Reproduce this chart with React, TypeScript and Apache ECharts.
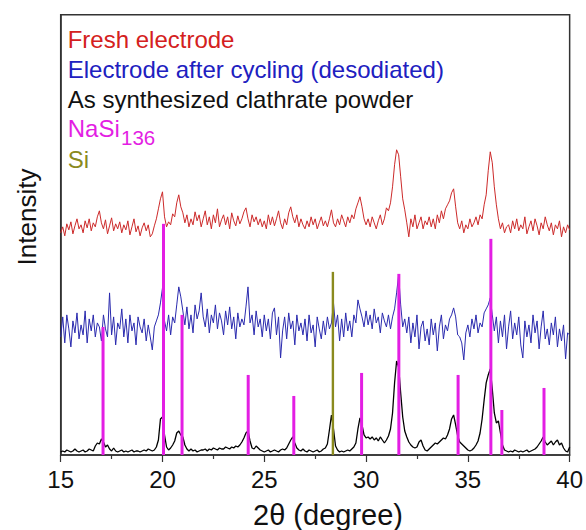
import React, { useEffect, useRef } from "react";
import * as echarts from "echarts";

// Evenly sampled 2θ scan: 15.0 → 40.0 in 0.1° steps
const SCAN_START = 15;
const SCAN_STEP = 0.1;

// Fresh electrode (red), offset intensity
const freshElectrode = [
  222, 228, 219, 231, 225, 233, 221, 229, 236, 226,
  230, 222, 234, 227, 236, 224, 232, 228, 238, 244,
  232, 226, 235, 221, 229, 237, 224, 231, 226, 233,
  222, 230, 225, 234, 220, 228, 236, 223, 229, 219,
  227, 232, 224, 230, 218, 221, 229, 236, 246, 256,
  263, 238, 228, 233, 230, 241, 238, 252, 260, 248,
  242, 232, 240, 228, 236, 230, 243, 234, 240, 228,
  236, 244, 230, 238, 226, 240, 232, 246, 228, 235,
  240, 230, 238, 226, 242, 234, 229, 239, 231, 236,
  243, 247, 236, 228, 240, 233, 238, 230, 236, 228,
  234, 226, 240, 230, 238, 229, 236, 244, 232, 226,
  236, 230, 242, 248, 238, 232, 240, 228, 236, 230,
  226, 234, 228, 238, 230, 236, 226, 232, 238, 229,
  234, 228, 236, 245, 232, 228, 236, 230, 240, 234,
  228, 238, 232, 240, 236, 246, 252, 258, 248, 236,
  230, 236, 228, 238, 232, 226, 234, 240, 230, 236,
  247, 244, 252, 268, 290, 305, 300, 278, 256, 245,
  232, 218, 236, 228, 240, 226, 232, 238, 226, 234,
  230, 238, 228, 236, 226, 240, 232, 244, 236, 246,
  250, 254, 262, 266, 248, 232, 226, 234, 222, 230,
  226, 236, 228, 232, 238, 230, 240, 236, 250, 260,
  284, 303, 292, 268, 250, 236, 226, 232, 222, 228,
  230, 222, 234, 226, 236, 224, 230, 226, 238, 221,
  228, 234, 224, 236, 229, 220, 232, 226, 238, 230,
  224, 232, 220, 230, 226, 234, 218, 228, 222, 230,
  225,
];

// Electrode after cycling (desodiated), blue
const cycledElectrode = [
  118, 138, 112, 140, 126, 108, 134, 122, 142, 116,
  130, 120, 144, 112, 136, 124, 140, 118, 132, 128,
  114, 140, 126, 118, 162, 120, 138, 110, 132, 126,
  146, 118, 136, 112, 140, 124, 132, 110, 138, 128,
  122, 136, 114, 130, 118, 105, 128, 134, 140, 152,
  167, 134, 124, 140, 120, 138, 132, 150, 168, 158,
  144, 130, 148, 126, 140, 122, 150, 136, 144, 162,
  138, 128, 146, 122, 140, 132, 150, 126, 142, 134,
  120, 144, 130, 148, 126, 138, 116, 142, 128, 136,
  130, 148, 168, 132, 140, 120, 144, 128, 136, 118,
  140, 124, 136, 116, 142, 147, 120, 138, 97, 124,
  138, 116, 142, 126, 134, 110, 140, 124, 132, 120,
  136, 114, 140, 122, 130, 108, 138, 126, 116, 134,
  120, 138, 126, 132, 152, 128, 140, 114, 136, 118,
  142, 124, 134, 118, 140, 132, 155, 146, 138, 128,
  144, 130, 140, 126, 146, 132, 138, 122, 142, 134,
  128, 140, 126, 138, 146, 162, 180, 150, 128, 136,
  122, 138, 112, 132, 118, 140, 106, 128, 134, 114,
  126, 110, 136, 120, 132, 104, 128, 140, 116, 130,
  124, 136, 140, 147, 138, 120, 118, 112, 95, 122,
  130, 118, 136, 126, 140, 122, 132, 128, 142, 146,
  150, 157, 140, 124, 138, 112, 134, 118, 140, 106,
  128, 144, 116, 132, 120, 138, 110, 97, 134, 118,
  130, 112, 140, 122, 134, 106, 128, 144, 116, 126,
  110, 132, 120, 138, 108, 126, 114, 130, 96, 122,
  120,
];

// As synthesized clathrate powder, black
const clathratePowder = [
  3, 4, 3, 5, 4, 3, 4, 6, 4, 3,
  4, 5, 3, 4, 6, 5, 4, 9, 12, 11,
  16, 13, 8, 10, 6, 4, 7, 4, 3, 4,
  5, 3, 4, 3, 4, 5, 3, 4, 4, 3,
  4, 5, 4, 6, 5, 4, 5, 8, 15, 36,
  38, 20, 8, 5, 7, 10, 14, 22, 24, 20,
  18, 10, 6, 4, 6, 4, 5, 3, 4, 5,
  5, 6, 4, 6, 5, 7, 6, 5, 7, 6,
  6, 8, 7, 6, 8, 7, 9, 8, 10, 13,
  17, 22, 24, 14, 7, 6, 9, 7, 5, 4,
  3, 4, 5, 3, 4, 5, 4, 3, 5, 6,
  5, 7, 11, 15, 18, 12, 7, 5, 4, 6,
  4, 3, 5, 4, 3, 4, 5, 3, 4, 6,
  7, 11, 25, 40, 26, 9, 5, 3, 4, 3,
  4, 5, 4, 6, 8, 12, 26, 37, 30, 20,
  17, 18, 16, 18, 15, 17, 14, 18, 15, 12,
  15, 19, 26, 42, 72, 94, 88, 62, 38, 24,
  18, 13, 10, 8, 7, 8, 13, 15, 9, 5,
  4, 6, 8, 10, 12, 11, 13, 15, 17, 16,
  20, 26, 36, 40, 30, 19, 13, 11, 9, 7,
  5, 4, 5, 7, 10, 14, 22, 36, 55, 72,
  80, 86, 66, 42, 32, 34, 22, 10, 5, 4,
  3, 4, 3, 5, 4, 3, 4, 3, 4, 5,
  3, 4, 5, 6, 8, 11, 14, 18, 13, 10,
  12, 14, 10, 13, 15, 10, 12, 7, 4, 3,
  8,
];

// Reference stick patterns
const nasiPositions = [17.08, 20.05, 20.96, 24.21, 26.45, 29.78, 31.61, 34.52, 36.13, 36.67, 38.74];
const nasiHeights = [128, 231, 140, 80, 59, 82, 181, 80, 216, 45, 67];
const siPositions = [28.37];
const siHeights = [183];

const xTicks = { min: 15, max: 40, interval: 5 };

const FONT = "'Liberation Sans', Arial, Helvetica, sans-serif";
const RED = "#cc2a2a";
const BLUE = "#2a2aae";
const MAGENTA = "#e31ee3";
const OLIVE = "#8a8a1e";

function toPairs(values: number[]) {
  return values.map((v, i) => [+(SCAN_START + i * SCAN_STEP).toFixed(2), v]);
}

function sticks(color: string, width: number) {
  return (params: any, api: any) => {
    const x = api.value(0);
    const h = api.value(1);
    const p0 = api.coord([x, 0]);
    const p1 = api.coord([x, h]);
    return {
      type: "rect",
      shape: { x: p0[0] - width / 2, y: p1[1], width, height: p0[1] - p1[1] },
      style: { fill: color },
    };
  };
}

export default function App() {
  const ref = useRef<HTMLDivElement>(null);

  useEffect(() => {
    if (!ref.current) return;
    const chart = echarts.init(ref.current, undefined, { renderer: "svg" });
    const axisColor = "#333";
    const legendText = (text: string, fill: string, y: number, x = 67.7, fontSize = 24) => ({
      type: "text",
      x,
      y,
      style: { text, fill, fontSize, fontFamily: FONT, verticalAlign: "middle", align: "left" },
    });
    chart.setOption({
      animation: false,
      grid: {
        left: 60.7,
        right: 14.3,
        top: 14.7,
        bottom: 75,
        show: true,
        borderColor: axisColor,
        borderWidth: 1.5,
      },
      xAxis: {
        type: "value",
        min: xTicks.min,
        max: xTicks.max,
        interval: xTicks.interval,
        axisLine: { show: true, onZero: false, lineStyle: { color: axisColor, width: 1.5 } },
        axisTick: { show: true, inside: false, length: 7, lineStyle: { color: axisColor, width: 1.2 } },
        minorTick: { show: true, splitNumber: 2, length: 4, lineStyle: { color: axisColor, width: 1.2 } },
        axisLabel: { fontSize: 24, color: "#111", margin: 12, fontFamily: FONT },
        splitLine: { show: false },
      },
      yAxis: {
        type: "value",
        min: 0,
        max: 440,
        axisLine: { show: true, lineStyle: { color: axisColor, width: 1.5 } },
        axisTick: { show: false },
        axisLabel: { show: false },
        splitLine: { show: false },
      },
      series: [
        {
          name: "Fresh electrode",
          type: "line",
          data: toPairs(freshElectrode),
          showSymbol: false,
          lineStyle: { color: RED, width: 1 },
          z: 2,
        },
        {
          name: "Electrode after cycling (desodiated)",
          type: "line",
          data: toPairs(cycledElectrode),
          showSymbol: false,
          lineStyle: { color: BLUE, width: 1 },
          z: 2,
        },
        {
          name: "As synthesized clathrate powder",
          type: "line",
          data: toPairs(clathratePowder),
          showSymbol: false,
          lineStyle: { color: "#000", width: 1.3 },
          z: 2,
        },
        {
          name: "NaSi136",
          type: "custom",
          renderItem: sticks(MAGENTA, 3),
          encode: { x: 0, y: 1 },
          data: nasiPositions.map((p, i) => [p, nasiHeights[i]]),
          z: 3,
        },
        {
          name: "Si",
          type: "custom",
          renderItem: sticks(OLIVE, 2.4),
          encode: { x: 0, y: 1 },
          data: siPositions.map((p, i) => [p, siHeights[i]]),
          z: 3,
        },
      ],
      graphic: [
        legendText("Fresh electrode", "#d42020", 39),
        legendText("Electrode after cycling (desodiated)", "#2020c0", 69),
        legendText("As synthesized clathrate powder", "#111", 99.5),
        legendText("NaSi", MAGENTA, 128),
        legendText("136", MAGENTA, 137, 121, 20.5),
        legendText("Si", OLIVE, 159.5),
        { type: "text", x: 27, y: 217, rotation: Math.PI / 2, style: { text: "Intensity", fill: "#111", fontSize: 26, fontFamily: FONT, verticalAlign: "middle", align: "center" } },
        { type: "text", x: 328, y: 515, style: { text: "2θ (degree)", fill: "#111", fontSize: 29, fontFamily: FONT, verticalAlign: "middle", align: "center" } },
      ],
    });
    return () => chart.dispose();
  }, []);

  return (
    <div
      ref={ref}
      style={{ position: "fixed", left: 0, top: 0, width: 586, height: 530, background: "#fff" }}
    />
  );
}
